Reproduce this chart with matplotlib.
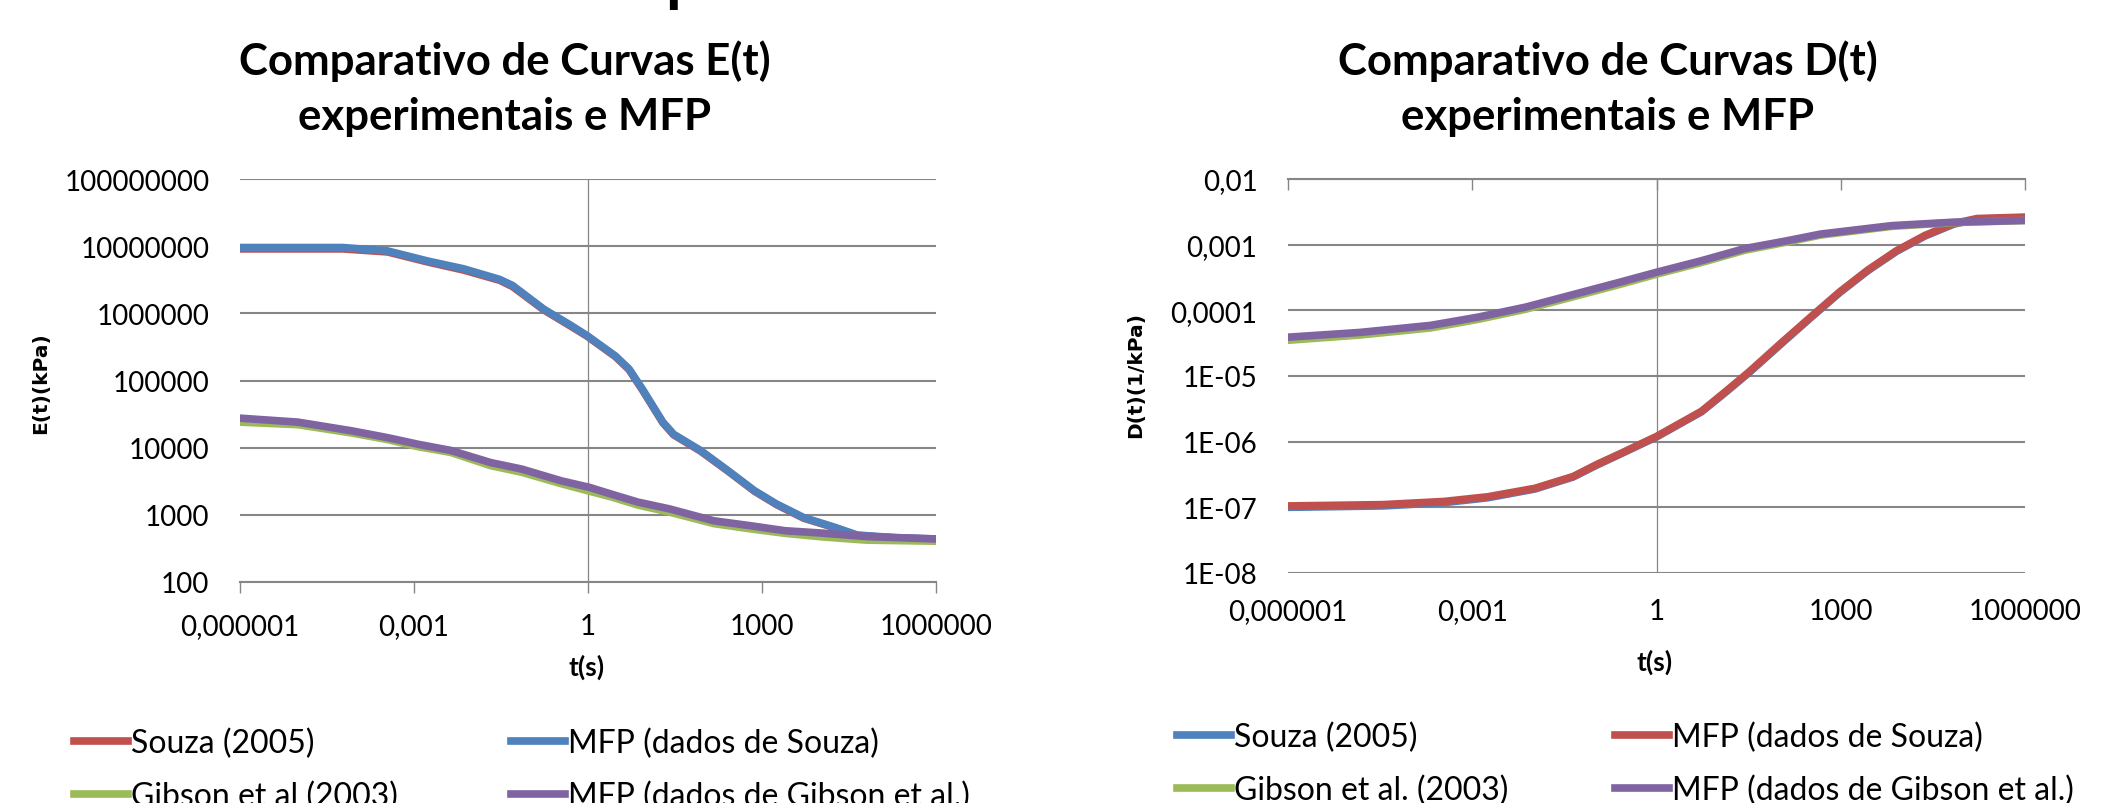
import matplotlib
matplotlib.use("Agg")
import matplotlib.pyplot as plt
from matplotlib.lines import Line2D
from matplotlib.ticker import FixedLocator, FixedFormatter, NullLocator

W, H = 2105, 804

RED    = "#C0504D"
BLUE   = "#4F81BD"
GREEN  = "#9BBB59"
PURPLE = "#8064A2"
GRID   = "#868686"

# ---- E(t) panel (left) ----
e_souza_t   = [1e-6, 5.9e-5, 3.5e-4, 1.74e-3, 7.2e-3, 0.03, 0.05, 0.174, 0.51, 0.95, 3.0, 5.1, 8.7,
               19.5, 30, 87, 257, 740, 1780, 5250, 18200, 43600, 2e5, 1e6]
e_souza     = [9.1e6, 9.1e6, 8.2e6, 5.8e6, 4.4e6, 3.1e6, 2.5e6, 1.12e6, 6.4e5, 4.6e5, 2.25e5, 1.45e5,
               7.2e4, 2.35e4, 1.55e4, 8900, 4500, 2250, 1420, 890, 640, 495, 452, 432]
e_mfp_souza = [9.55e6, 9.55e6, 8.5e6, 6.0e6, 4.6e6, 3.2e6, 2.6e6, 1.15e6, 6.6e5, 4.7e5, 2.3e5, 1.48e5,
               7.4e4, 2.4e4, 1.58e4, 9100, 4570, 2290, 1450, 910, 650, 500, 457, 437]

e_gibson_t = [1e-6, 1e-5, 8.5e-5, 3.5e-4, 1.2e-3, 4.3e-3, 0.021, 0.072, 0.35, 1.05, 2.5, 7.2, 25,
              148, 620, 2500, 10700, 63000, 1e6]
e_gibson   = [24000, 22000, 16500, 13200, 10300, 8500, 5400, 4300, 2900, 2250, 1850, 1400, 1100,
              740, 620, 530, 470, 420, 405]
e_mfp_gibson = [27500, 24000, 17800, 14100, 11200, 9100, 6000, 4800, 3200, 2570, 2040, 1550, 1230,
                815, 690, 580, 535, 475, 437]

# ---- D(t) panel (right) ----
d_souza_t   = [1e-6, 3.5e-5, 3.5e-4, 1.8e-3, 0.0105, 0.044, 0.107, 0.26, 1, 5.4, 13.2, 32, 112,
               324, 955, 2750, 8100, 23400, 69000, 1.66e5, 1e6]
d_souza     = [1.0e-7, 1.05e-7, 1.18e-7, 1.4e-7, 1.9e-7, 2.9e-7, 4.4e-7, 6.5e-7, 1.18e-6, 2.85e-6,
               5.6e-6, 1.12e-5, 3.2e-5, 7.7e-5, 1.85e-4, 4.0e-4, 7.9e-4, 1.35e-3, 2.05e-3, 2.45e-3,
               2.58e-3]
d_mfp_souza = [1.05e-7, 1.1e-7, 1.23e-7, 1.45e-7, 1.95e-7, 2.95e-7, 4.5e-7, 6.6e-7, 1.2e-6, 2.9e-6,
               5.75e-6, 1.15e-5, 3.3e-5, 7.9e-5, 1.9e-4, 4.1e-4, 8.1e-4, 1.38e-3, 2.1e-3, 2.5e-3,
               2.63e-3]

d_gibson_t = [1e-6, 1.45e-5, 2.1e-4, 1.26e-3, 7.4e-3, 0.063, 0.26, 1, 5.4, 27, 135, 470, 6800,
              69000, 1e6]
d_gibson   = [3.5e-5, 4.2e-5, 5.4e-5, 7.3e-5, 1.04e-4, 1.76e-4, 2.5e-4, 3.55e-4, 5.35e-4, 8.2e-4,
              1.1e-3, 1.4e-3, 1.9e-3, 2.17e-3, 2.33e-3]
d_mfp_gibson = [3.9e-5, 4.6e-5, 5.9e-5, 7.9e-5, 1.12e-4, 1.9e-4, 2.7e-4, 3.8e-4, 5.7e-4, 8.7e-4,
                1.15e-3, 1.45e-3, 1.95e-3, 2.2e-3, 2.34e-3]

x_ticks  = [1e-6, 1e-3, 1, 1e3, 1e6]
x_labels = ["0,000001", "0,001", "1", "1000", "1000000"]

e_ticks  = [1e2, 1e3, 1e4, 1e5, 1e6, 1e7, 1e8]
e_labels = ["100", "1000", "10000", "100000", "1000000", "10000000", "100000000"]

d_ticks  = [1e-8, 1e-7, 1e-6, 1e-5, 1e-4, 1e-3, 1e-2]
d_labels = ["1E-08", "1E-07", "1E-06", "1E-05", "0,0001", "0,001", "0,01"]

LW = 5.5
FONT = "Lato"


def px_axes(fig, x0, y0, x1, y1):
    return fig.add_axes([x0 / W, 1 - y1 / H, (x1 - x0) / W, (y1 - y0) / H])


def style_panel(ax, yticks, ylabels, axis_on_top):
    ax.set_xscale("log")
    ax.set_yscale("log")
    ax.set_xlim(x_ticks[0], x_ticks[-1])
    ax.set_ylim(yticks[0], yticks[-1])
    ax.xaxis.set_major_locator(FixedLocator(x_ticks))
    ax.xaxis.set_major_formatter(FixedFormatter(x_labels))
    ax.xaxis.set_minor_locator(NullLocator())
    ax.yaxis.set_major_locator(FixedLocator(yticks))
    ax.yaxis.set_major_formatter(FixedFormatter(ylabels))
    ax.yaxis.set_minor_locator(NullLocator())
    for s in ax.spines.values():
        s.set_visible(False)
    ax.grid(True, axis="y", color=GRID, lw=1.5)
    ax.set_axisbelow(True)
    ax.axvline(1, color=GRID, lw=0.9, zorder=1)
    ax.tick_params(axis="y", length=0, pad=22, labelsize=20)
    if axis_on_top:
        ax.spines["top"].set_visible(True)
        ax.spines["top"].set_color(GRID)
        ax.spines["top"].set_linewidth(1.5)
        ax.tick_params(axis="x", top=True, bottom=False, labeltop=False, labelbottom=True,
                       direction="in", length=8, color=GRID, width=1, pad=18, labelsize=20)
    else:
        ax.spines["bottom"].set_visible(True)
        ax.spines["bottom"].set_color(GRID)
        ax.spines["bottom"].set_linewidth(1.5)
        ax.tick_params(axis="x", direction="out", length=8, color=GRID, width=1, pad=14,
                       labelsize=20)
    for lab in ax.get_xticklabels() + ax.get_yticklabels():
        lab.set_fontfamily(FONT)


def add_legend_col(fig, items, x, y):
    handles = [Line2D([], [], color=c, lw=LW) for c, _ in items]
    labels = [t for _, t in items]
    fig.legend(handles, labels, loc="upper left", bbox_to_anchor=(x / W, 1 - y / H),
               frameon=False, borderpad=0, borderaxespad=0, handlelength=1.69,
               handletextpad=0.1, labelspacing=0.69, prop={"family": FONT, "size": 23})


fig = plt.figure(figsize=(W / 100, H / 100), dpi=100)

# left panel
ax1 = px_axes(fig, 240, 180, 936, 583)
ax1.plot(e_souza_t, e_souza, color=RED, lw=LW)
ax1.plot(e_souza_t, e_mfp_souza, color=BLUE, lw=LW)
ax1.plot(e_gibson_t, e_gibson, color=GREEN, lw=LW)
ax1.plot(e_gibson_t, e_mfp_gibson, color=PURPLE, lw=LW)
style_panel(ax1, e_ticks, e_labels, axis_on_top=False)

# right panel
ax2 = px_axes(fig, 1288, 180, 2025, 574)
ax2.plot(d_souza_t, d_souza, color=BLUE, lw=LW)
ax2.plot(d_souza_t, d_mfp_souza, color=RED, lw=LW)
ax2.plot(d_gibson_t, d_gibson, color=GREEN, lw=LW)
ax2.plot(d_gibson_t, d_mfp_gibson, color=PURPLE, lw=LW)
style_panel(ax2, d_ticks, d_labels, axis_on_top=True)

# titles
for cx, txt in [(505, "Comparativo de Curvas E(t)\nexperimentais e MFP"),
                (1608, "Comparativo de Curvas D(t)\nexperimentais e MFP")]:
    fig.text(cx / W, 1 - 89 / H, txt, ha="center", va="center", fontsize=31.5,
             fontweight="bold", family=FONT, linespacing=1.45)
# cut-off heading above the charts
fig.text(683 / W, 1.0, "p", ha="center", va="baseline", fontsize=46, fontweight="bold", family=FONT)

# axis labels
fig.text(41 / W, 1 - 383 / H, "E(t)(kPa)", rotation=90, ha="center", va="center",
         fontsize=14.5, fontweight="bold", family="DejaVu Sans")
fig.text(1136 / W, 1 - 375 / H, "D(t)(1/kPa)", rotation=90, ha="center", va="center",
         fontsize=14.5, fontweight="bold", family="DejaVu Sans")
fig.text(587 / W, 1 - 667 / H, "t(s)", ha="center", va="center", fontsize=19,
         fontweight="bold", family=FONT)
fig.text(1655 / W, 1 - 662 / H, "t(s)", ha="center", va="center", fontsize=19,
         fontweight="bold", family=FONT)

# legends
add_legend_col(fig, [(RED, "Souza (2005)"), (GREEN, "Gibson et al (2003)")], 74, 729)
add_legend_col(fig, [(BLUE, "MFP (dados de Souza)"), (PURPLE, "MFP (dados de Gibson et al.)")], 511, 729)
add_legend_col(fig, [(BLUE, "Souza (2005)"), (GREEN, "Gibson et al. (2003)")], 1177, 723)
add_legend_col(fig, [(RED, "MFP (dados de Souza)"), (PURPLE, "MFP (dados de Gibson et al.)")], 1615, 723)

fig.savefig("out.png", dpi=100)
